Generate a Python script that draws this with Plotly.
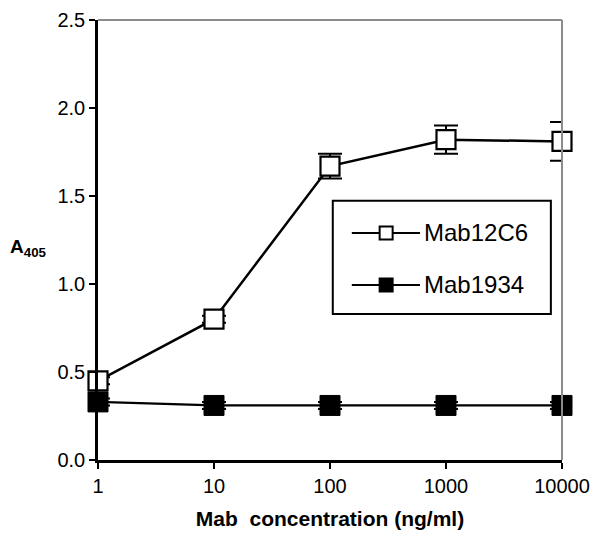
import plotly.graph_objects as go

conc = [1, 10, 100, 1000, 10000]
mab12c6 = [0.45, 0.80, 1.67, 1.82, 1.81]
mab12c6_err = [0.02, 0.02, 0.07, 0.08, 0.11]
mab1934 = [0.33, 0.31, 0.31, 0.31, 0.31]
mab1934_err = [0.02, 0.02, 0.02, 0.02, 0.02]
y_ticks = [0.0, 0.5, 1.0, 1.5, 2.0, 2.5]
x_ticks = [1, 10, 100, 1000, 10000]
series_names = ["Mab12C6", "Mab1934"]

fig = go.Figure()
fig.add_trace(go.Scatter(
    x=conc, y=mab12c6, name=series_names[0], mode="lines+markers", cliponaxis=False,
    line=dict(color="black", width=2.5),
    marker=dict(symbol="square", size=19, color="white", line=dict(color="black", width=2.2)),
    error_y=dict(type="data", array=mab12c6_err, color="black", thickness=2, width=12),
))
fig.add_trace(go.Scatter(
    x=conc, y=mab1934, name=series_names[1], mode="lines+markers", cliponaxis=False,
    line=dict(color="black", width=2.2),
    marker=dict(symbol="square", size=20, color="black", line=dict(color="black", width=1)),
    error_y=dict(type="data", array=mab1934_err, color="black", thickness=2, width=12),
))

# manual legend (paper coordinates)
shapes = [
    dict(type="line", xref="paper", yref="paper", x0=0, x1=1, y0=1, y1=1,
         line=dict(color="#8c8c8c", width=2)),
    dict(type="line", xref="paper", yref="paper", x0=1, x1=1, y0=0, y1=1,
         line=dict(color="#8c8c8c", width=2)),
    dict(type="rect", xref="paper", yref="paper", x0=0.506, x1=0.976, y0=0.332, y1=0.589,
         line=dict(color="black", width=2), fillcolor="white", layer="above"),
]
annotations = [
    dict(text="<b>A<sub>405</sub></b>", xref="paper", yref="paper", x=-0.149, y=0.482,
         xanchor="center", yanchor="middle", showarrow=False, font=dict(size=19)),
]
rows = [0.516, 0.398]
fills = ["white", "black"]
mw, mh = 13 / 464, 13 / 440
for name, yy, fc in zip(series_names, rows, fills):
    shapes.append(dict(type="line", xref="paper", yref="paper", x0=0.547, x1=0.694, y0=yy, y1=yy,
                       line=dict(color="black", width=2), layer="above"))
    shapes.append(dict(type="rect", xref="paper", yref="paper",
                       x0=0.621 - mw / 2, x1=0.621 + mw / 2, y0=yy - mh / 2, y1=yy + mh / 2,
                       line=dict(color="black", width=2), fillcolor=fc, layer="above"))
    annotations.append(dict(text=name, xref="paper", yref="paper", x=0.699, y=yy,
                            xanchor="left", yanchor="middle", showarrow=False,
                            font=dict(size=24)))

fig.update_layout(
    width=594, height=538,
    margin=dict(l=98, r=32, t=20, b=78, autoexpand=False),
    paper_bgcolor="white", plot_bgcolor="white",
    font=dict(family="Liberation Sans, Arial, sans-serif", color="black", size=20),
    showlegend=False,
    xaxis=dict(
        type="log", range=[0, 4], tickvals=x_ticks, ticktext=[str(v) for v in x_ticks],
        showgrid=False, zeroline=False, showline=True, linecolor="black", linewidth=2.5,
        ticks="outside", ticklen=6, tickwidth=2, tickcolor="black", automargin=False,
        title=dict(text="<b>Mab  concentration (ng/ml)</b>", font=dict(size=21), standoff=16),
    ),
    yaxis=dict(
        range=[0, 2.5], tickvals=y_ticks, tickformat=".1f", automargin=False,
        showgrid=False, zeroline=False, showline=True, linecolor="black", linewidth=2.5,
        ticks="outside", ticklen=6, tickwidth=2, tickcolor="black",
    ),
    shapes=shapes,
    annotations=annotations,
)

fig.write_html("out.html", config={"displayModeBar": False},
               post_script="document.body.style.margin='0';")
